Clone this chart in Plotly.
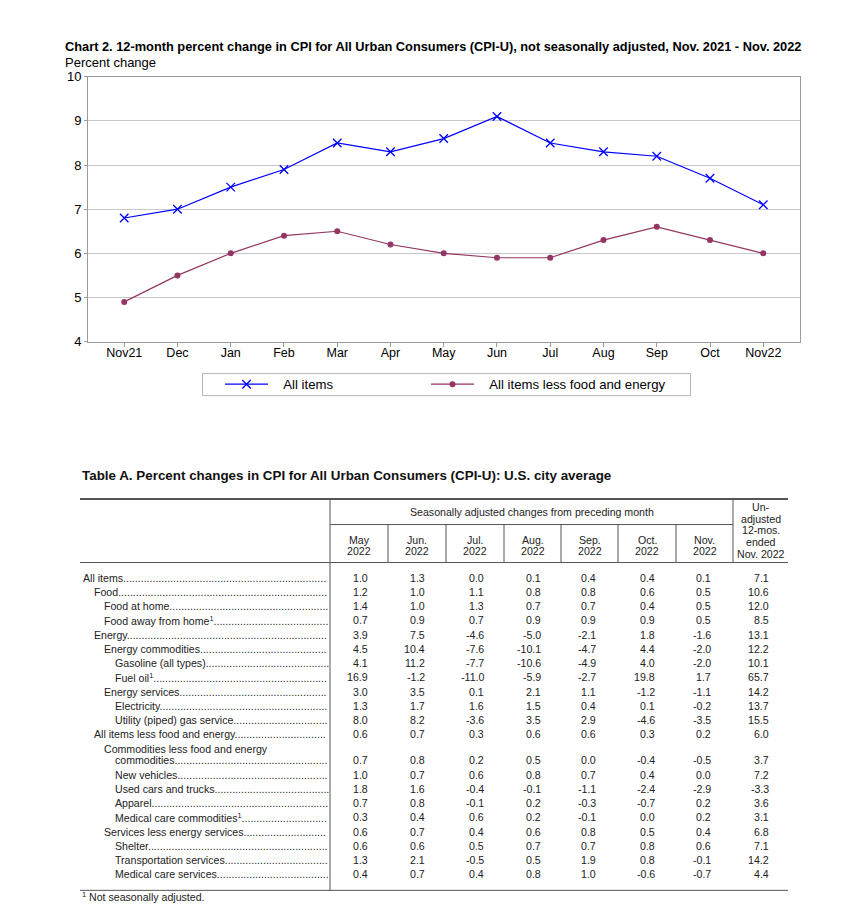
import re
import plotly.graph_objects as go

W, H = 864, 909

# ---------------- Chart data ----------------
months = ["Nov21", "Dec", "Jan", "Feb", "Mar", "Apr", "May", "Jun", "Jul", "Aug", "Sep", "Oct", "Nov22"]
all_items = [6.8, 7.0, 7.5, 7.9, 8.5, 8.3, 8.6, 9.1, 8.5, 8.3, 8.2, 7.7, 7.1]
core_items = [4.9, 5.5, 6.0, 6.4, 6.5, 6.2, 6.0, 5.9, 5.9, 6.3, 6.6, 6.3, 6.0]

# ---------------- Table data ----------------
row_labels = [
    "All items", "Food", "Food at home", "Food away from home<sup>1</sup>", "Energy",
    "Energy commodities", "Gasoline (all types)", "Fuel oil<sup>1</sup>", "Energy services",
    "Electricity", "Utility (piped) gas service", "All items less food and energy",
    "commodities", "New vehicles", "Used cars and trucks", "Apparel",
    "Medical care commodities<sup>1</sup>", "Services less energy services", "Shelter",
    "Transportation services", "Medical care services",
]
row_indent = [0, 1, 2, 2, 1, 2, 3, 3, 2, 3, 3, 1, 3, 3, 3, 3, 3, 2, 3, 3, 3]
group_label = "Commodities less food and energy"
col_headers = [("May", "2022"), ("Jun.", "2022"), ("Jul.", "2022"), ("Aug.", "2022"),
               ("Sep.", "2022"), ("Oct.", "2022"), ("Nov.", "2022")]
last_header = ["Un-", "adjusted", "12-mos.", "ended", "Nov. 2022"]
may22 = [1.0, 1.2, 1.4, 0.7, 3.9, 4.5, 4.1, 16.9, 3.0, 1.3, 8.0, 0.6, 0.7, 1.0, 1.8, 0.7, 0.3, 0.6, 0.6, 1.3, 0.4]
jun22 = [1.3, 1.0, 1.0, 0.9, 7.5, 10.4, 11.2, -1.2, 3.5, 1.7, 8.2, 0.7, 0.8, 0.7, 1.6, 0.8, 0.4, 0.7, 0.6, 2.1, 0.7]
jul22 = [0.0, 1.1, 1.3, 0.7, -4.6, -7.6, -7.7, -11.0, 0.1, 1.6, -3.6, 0.3, 0.2, 0.6, -0.4, -0.1, 0.6, 0.4, 0.5, -0.5, 0.4]
aug22 = [0.1, 0.8, 0.7, 0.9, -5.0, -10.1, -10.6, -5.9, 2.1, 1.5, 3.5, 0.6, 0.5, 0.8, -0.1, 0.2, 0.2, 0.6, 0.7, 0.5, 0.8]
sep22 = [0.4, 0.8, 0.7, 0.9, -2.1, -4.7, -4.9, -2.7, 1.1, 0.4, 2.9, 0.6, 0.0, 0.7, -1.1, -0.3, -0.1, 0.8, 0.7, 1.9, 1.0]
oct22 = [0.4, 0.6, 0.4, 0.9, 1.8, 4.4, 4.0, 19.8, -1.2, 0.1, -4.6, 0.3, -0.4, 0.4, -2.4, -0.7, 0.0, 0.5, 0.8, 0.8, -0.6]
nov22 = [0.1, 0.5, 0.5, 0.5, -1.6, -2.0, -2.0, 1.7, -1.1, -0.2, -3.5, 0.2, -0.5, 0.0, -2.9, 0.2, 0.2, 0.4, 0.6, -0.1, -0.7]
yoy22 = [7.1, 10.6, 12.0, 8.5, 13.1, 12.2, 10.1, 65.7, 14.2, 13.7, 15.5, 6.0, 3.7, 7.2, -3.3, 3.6, 3.1, 6.8, 7.1, 14.2, 4.4]
value_cols = [may22, jun22, jul22, aug22, sep22, oct22, nov22, yoy22]


def X(px):
    return px / W


def Y(py):
    # vertical pixel position -> paper fraction (small correction for the photographed page)
    return 1 - ((py - 7.2) / 0.984) / H


# Helvetica/Arial advance widths (per 1000 em) for dot-leader fitting
HW = {" ": 278, "(": 333, ")": 333, ".": 278, "-": 333, "A": 667, "C": 722, "E": 667, "F": 611,
      "G": 778, "M": 833, "N": 722, "S": 667, "T": 611, "U": 722, "a": 556, "b": 556, "c": 500,
      "d": 556, "e": 556, "f": 278, "g": 556, "h": 556, "i": 222, "j": 222, "k": 500, "l": 222,
      "m": 833, "n": 556, "o": 556, "p": 556, "q": 556, "r": 333, "s": 500, "t": 278, "u": 556,
      "v": 500, "w": 722, "x": 500, "y": 500, "z": 500}


def text_w(s, fs):
    sup = re.findall(r"<sup>(.*?)</sup>", s)
    base = re.sub(r"<sup>.*?</sup>", "", s)
    w = sum(HW.get(ch, 556) for ch in base) * fs / 1000
    w += sum(HW.get(ch, 556) for t in sup for ch in t) * fs * 0.7 / 1000
    return w


CH_FONT = "Liberation Sans, Arial, Helvetica, sans-serif"
TB_FONT = "Liberation Sans, Arial, Helvetica, sans-serif"
TFS = 10.6

fig = go.Figure()
fig.add_trace(go.Scatter(
    x=months, y=all_items, mode="lines+markers", name="   All items", legend="legend",
    showlegend=True,
    line=dict(color="#0000ff", width=1.2),
    marker=dict(symbol="x-thin", size=8.5, line=dict(color="#0000ff", width=1.3)),
))
fig.add_trace(go.Scatter(
    x=months, y=core_items, mode="lines+markers", name="   All items less food and energy",
    legend="legend2", showlegend=True,
    line=dict(color="#953563", width=1.2),
    marker=dict(symbol="circle", size=6, color="#953563"),
))

ann = []
shapes = []

# Chart title texts
ann.append(dict(x=X(63), y=Y(47), xref="paper", yref="paper", xanchor="left", yanchor="middle",
                text="<b>Chart 2. 12-month percent change in CPI for All Urban Consumers (CPI-U), not seasonally adjusted, Nov. 2021 - Nov. 2022</b>",
                showarrow=False, font=dict(family=CH_FONT, size=12.8, color="#000")))
ann.append(dict(x=X(63), y=Y(63), xref="paper", yref="paper", xanchor="left", yanchor="middle",
                text="Percent change", showarrow=False, font=dict(family=CH_FONT, size=13, color="#000")))

# legend frame
shapes.append(dict(type="rect", xref="paper", yref="paper", x0=X(202.5), x1=X(690.5), y0=Y(374), y1=Y(396),
                   line=dict(color="#b4b4b4", width=1), fillcolor="rgba(0,0,0,0)"))

# ---------------- Table ----------------
line_col = "#555555"
txt_col = "#222222"
ann.append(dict(x=X(80), y=Y(476), xref="paper", yref="paper", xanchor="left", yanchor="middle",
                text="<b>Table A. Percent changes in CPI for All Urban Consumers (CPI-U): U.S. city average</b>",
                showarrow=False, font=dict(family=TB_FONT, size=13.4, color="#111")))

col_edges = [330, 388, 446, 504, 561, 618, 676, 733, 788]
num_right = [370, 427, 486, 543, 598, 657, 713, 771]


def hline(x0, x1, y, w=1):
    shapes.append(dict(type="line", xref="paper", yref="paper", x0=X(x0), x1=X(x1), y0=Y(y), y1=Y(y),
                       line=dict(color=line_col, width=w)))


def vline(x, y0, y1, w=1):
    shapes.append(dict(type="line", xref="paper", yref="paper", x0=X(x), x1=X(x), y0=Y(y0), y1=Y(y1),
                       line=dict(color=line_col, width=w)))


hline(80, 788, 499.5, 2)
hline(80, 788, 563)
hline(80, 788, 891)
vline(330, 499, 891)
hline(330, 733, 525)
vline(733, 499, 563)
for e in col_edges[1:7]:
    vline(e, 525, 563)


def txt(x, y, s, anchor="left", size=TFS):
    ann.append(dict(x=X(x), y=Y(y), xref="paper", yref="paper", xanchor=anchor, yanchor="middle",
                    text=s, showarrow=False, font=dict(family=TB_FONT, size=size, color=txt_col)))


txt(531.5, 512, "Seasonally adjusted changes from preceding month", "center")
for i, (a, b) in enumerate(col_headers):
    cx = (col_edges[i] + col_edges[i + 1]) / 2
    txt(cx, 540, a, "center")
    txt(cx, 551.5, b, "center")
for i, s in enumerate(last_header):
    txt(760.5, 507.5 + 11.7 * i, s, "center")

row_y = [578.3 + 14.22 * i for i in range(12)] + [761 + 14.25 * k for k in range(9)]
dot_end = 327
dot_w = HW["."] * TFS / 1000
txt(81 + 2 * 10.5, 749.3, group_label)
for r, lab in enumerate(row_labels):
    ry = row_y[r]
    lx = 81 + row_indent[r] * 10.5
    n = int((dot_end - lx - text_w(lab, TFS)) / dot_w)
    txt(lx, ry, lab + "." * max(n, 0))
    for c, col in enumerate(value_cols):
        txt(num_right[c], ry, f"{col[r]:.1f}", "right")

txt(80, 897.5, "<sup>1</sup> Not seasonally adjusted.")

axis_line = "#9a9a9a"
leg_common = dict(orientation="h", xanchor="left", yanchor="middle", y=Y(385),
                  bgcolor="rgba(0,0,0,0)", borderwidth=0, itemwidth=43,
                  font=dict(family=CH_FONT, size=13.2, color="#000"))
fig.update_layout(
    width=W, height=H, margin=dict(l=0, r=0, t=0, b=0),
    paper_bgcolor="white", plot_bgcolor="white", showlegend=True,
    xaxis=dict(type="category", categoryorder="array", categoryarray=months,
               range=[-0.68, 12.69], domain=[X(88), X(800)],
               showgrid=False, showline=True, linecolor=axis_line, mirror=True,
               ticks="outside", ticklen=4, tickcolor=axis_line, ticklabelstandoff=-5,
               tickfont=dict(family=CH_FONT, size=12.5, color="#000")),
    yaxis=dict(range=[4, 10], dtick=1, domain=[Y(342), Y(77)],
               showgrid=True, gridcolor="#c8c8c8", gridwidth=1,
               showline=True, linecolor=axis_line, mirror=True,
               ticks="outside", ticklen=3, tickcolor=axis_line,
               tickfont=dict(family=CH_FONT, size=13, color="#000"), zeroline=False),
    legend=dict(x=X(220), **leg_common),
    legend2=dict(x=X(426), **leg_common),
    annotations=ann, shapes=shapes,
)

post = (
    "var gd=document.getElementById('{plot_id}');"
    "gd.style.position='fixed';gd.style.top='0px';gd.style.left='0px';"
    "document.documentElement.style.margin='0';document.documentElement.style.padding='0';"
    "document.documentElement.style.overflow='hidden';"
    "document.body.style.margin='0';document.body.style.padding='0';"
    "document.body.style.height='909px';document.body.style.overflow='hidden';"
)
fig.write_html("out.html", config={"displayModeBar": False}, post_script=post)
